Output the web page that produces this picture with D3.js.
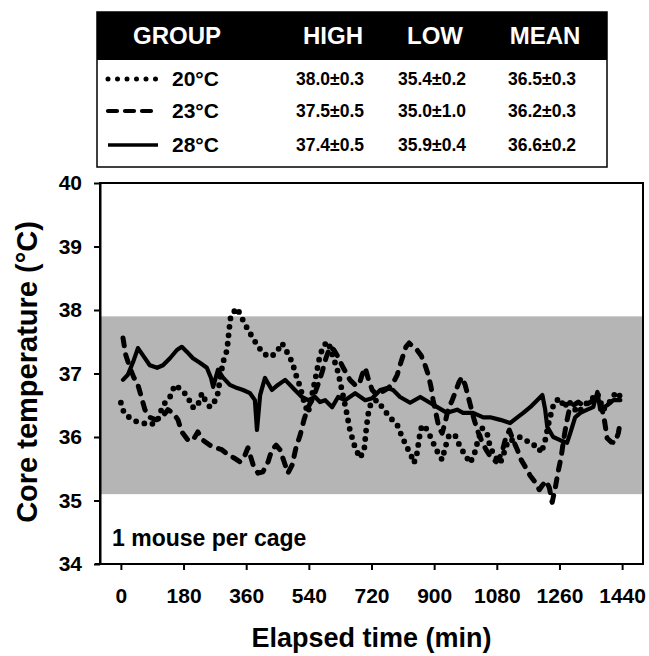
<!DOCTYPE html>
<html>
<head>
<meta charset="utf-8">
<script src="https://cdn.jsdelivr.net/npm/d3@7"></script>
<style>
  body { margin: 0; background: #fff; }
  svg { font-family: "Liberation Sans", Arial, sans-serif; }
</style>
</head>
<body>
<div id="my_dataviz"></div>
<script>
// values (minutes, deg C)
var t20 = [0,9,26,46,63,83,104,121,141,155,175,193,204,219,233,242,256,276,293,305,311,316,334,348,365,388,408,428,446,463,477,492,503,515,529,538,549,561,572,584,595,610,624,636,647,658,673,687,699,704,710,719,736,756,773,794,808,822,837,842,851,857,863,871,883,897,911,923,932,943,960,975,989,1003,1015,1026,1038,1052,1061,1075,1090,1104,1113,1130,1147,1164,1182,1196,1208,1219,1231,1245,1262,1274,1285,1300,1314,1331,1349,1369,1386,1403,1423,1440];
var temp20 = [36.54,36.38,36.30,36.24,36.22,36.19,36.24,36.50,36.63,36.82,36.74,36.63,36.47,36.47,36.69,36.58,36.47,36.61,37.17,37.37,37.69,37.92,38.03,37.87,37.69,37.48,37.32,37.26,37.32,37.48,37.34,37.18,36.98,36.79,36.50,36.38,36.66,36.98,37.29,37.45,37.50,37.26,37.02,36.71,36.43,36.11,35.83,35.67,35.80,36.08,36.35,36.55,36.58,36.43,36.31,36.19,36.00,35.84,35.67,35.59,35.75,35.98,36.14,36.19,36.08,35.91,35.75,35.64,35.84,36.03,36.03,35.84,35.72,35.59,35.72,35.95,36.14,36.06,35.84,35.69,35.59,35.80,35.95,35.95,36.00,35.95,35.87,35.87,35.75,35.95,36.27,36.55,36.61,36.46,36.58,36.46,36.38,36.50,36.58,36.69,36.43,36.54,36.71,36.61];

var t23 = [6,14,26,37,49,60,69,83,101,118,135,150,164,175,193,207,221,236,256,273,290,308,325,342,357,365,380,394,408,423,434,446,457,469,480,492,503,515,526,538,552,566,578,589,601,612,624,635,647,658,673,684,693,702,710,722,736,750,768,782,794,802,811,819,828,840,851,863,874,883,891,897,906,914,923,932,940,952,963,972,980,989,998,1006,1015,1026,1038,1049,1064,1078,1093,1104,1116,1127,1139,1150,1164,1176,1190,1202,1211,1222,1231,1239,1248,1256,1265,1271,1279,1288,1300,1314,1331,1349,1366,1380,1389,1397,1409,1420,1429,1435];
var temp23 = [37.56,37.29,37.09,36.94,36.82,36.61,36.43,36.31,36.27,36.31,36.43,36.38,36.27,36.08,35.95,35.95,36.08,35.95,35.87,35.83,35.80,35.72,35.67,35.61,35.72,35.83,35.56,35.43,35.45,35.61,35.80,35.87,35.80,35.61,35.43,35.56,35.83,36.03,36.27,36.47,36.61,36.82,37.02,37.24,37.42,37.37,37.26,37.13,37.01,36.90,36.82,36.82,36.98,37.09,36.93,36.74,36.66,36.71,36.77,36.85,36.98,37.13,37.29,37.42,37.48,37.42,37.37,37.28,37.13,36.98,36.79,36.58,36.35,36.14,36.06,36.24,36.43,36.58,36.74,36.87,36.94,36.82,36.63,36.46,36.27,36.08,35.92,35.80,35.67,35.61,35.72,35.95,36.11,35.95,35.80,35.64,35.51,35.39,35.29,35.17,35.24,35.31,35.20,34.97,35.20,35.45,35.69,35.92,36.19,36.43,36.50,36.55,36.49,36.55,36.61,36.50,36.27,35.98,35.92,35.91,36.06,36.24];

var t28 = [6,20,35,49,63,83,104,121,141,161,175,190,207,227,247,259,265,279,293,313,334,351,371,385,391,400,414,434,451,472,500,520,538,558,572,587,607,624,644,673,702,722,745,765,782,802,831,860,888,909,937,966,983,1012,1041,1061,1090,1118,1139,1156,1176,1196,1211,1219,1225,1242,1262,1282,1291,1305,1320,1340,1357,1369,1377,1397,1415,1435];
var temp28 = [36.90,36.98,37.18,37.40,37.29,37.13,37.09,37.13,37.24,37.37,37.42,37.34,37.24,37.17,37.09,36.93,36.79,37.06,36.94,36.82,36.77,36.74,36.69,36.58,36.11,36.66,36.93,36.74,36.82,36.90,36.74,36.63,36.58,36.63,36.55,36.58,36.47,36.63,36.58,36.69,36.58,36.61,36.74,36.77,36.74,36.63,36.54,36.63,36.54,36.47,36.38,36.43,36.38,36.38,36.31,36.31,36.27,36.22,36.31,36.38,36.47,36.58,36.66,36.43,36.16,36.00,35.95,35.91,36.06,36.31,36.38,36.43,36.47,36.71,36.43,36.50,36.58,36.58];

// table contents
var groups = ["20\u00B0C", "23\u00B0C", "28\u00B0C"];
var headers = ["GROUP", "HIGH", "LOW", "MEAN"];
var highs = ["38.0\u00B10.3", "37.5\u00B10.5", "37.4\u00B10.5"];
var lows  = ["35.4\u00B10.2", "35.0\u00B11.0", "35.9\u00B10.4"];
var means = ["36.5\u00B10.3", "36.2\u00B10.3", "36.6\u00B10.2"];

// grey band (normal range) and axis ticks
var band = [35.1, 37.9];
var xTicks = [0, 180, 360, 540, 720, 900, 1080, 1260, 1440];
var yTicks = [34, 35, 36, 37, 38, 39, 40];

var W = 649, H = 656;
var plot = {left: 100, right: 643, top: 183, bottom: 564};

var svg = d3.select("#my_dataviz")
  .append("svg")
    .attr("width", W)
    .attr("height", H);

var xScale = d3.scaleLinear().domain([-60, 1500]).range([plot.left, plot.right]);
var yScale = d3.scaleLinear().domain([34, 40]).range([plot.bottom, plot.top]);

// grey band
svg.append("rect")
  .attr("x", plot.left)
  .attr("width", plot.right - plot.left)
  .attr("y", yScale(band[1]))
  .attr("height", yScale(band[0]) - yScale(band[1]))
  .attr("fill", "#b5b5b5");

// series
var styles = [
  {t: t20, v: temp20, dash: "0 8.5", w: 5.8},
  {t: t23, v: temp23, dash: "8 9", w: 5},
  {t: t28, v: temp28, dash: null, w: 4.2}
];

var line = d3.line()
  .x(function(d) { return xScale(d[0]); })
  .y(function(d) { return yScale(d[1]); });

var lines = svg.append("g").attr("class", "lines");
styles.forEach(function(s) {
  var pts = s.t.map(function(t, i) { return [t, s.v[i]]; });
  lines.append("path")
    .datum(pts)
    .attr("fill", "none")
    .attr("stroke", "#000")
    .attr("stroke-width", s.w)
    .attr("stroke-linecap", "round")
    .attr("stroke-linejoin", "round")
    .attr("stroke-dasharray", s.dash)
    .attr("d", line);
});

// frame
svg.append("rect")
  .attr("x", plot.left)
  .attr("y", plot.top)
  .attr("width", plot.right - plot.left)
  .attr("height", plot.bottom - plot.top)
  .attr("fill", "none")
  .attr("stroke", "#000")
  .attr("stroke-width", 2);

// axes
var xAxis = d3.axisBottom(xScale)
  .tickValues(xTicks)
  .tickFormat(d3.format("d"))
  .tickSize(6)
  .tickSizeOuter(0)
  .tickPadding(18);

var gx = svg.append("g")
  .attr("transform", `translate(0,${plot.bottom})`)
  .call(xAxis);

var yAxis = d3.axisLeft(yScale)
  .tickValues(yTicks)
  .tickFormat(d3.format("d"))
  .tickSize(6)
  .tickSizeOuter(0)
  .tickPadding(12);

var gy = svg.append("g")
  .attr("transform", `translate(${plot.left},0)`)
  .call(yAxis);

[gx, gy].forEach(function(g) {
  g.select(".domain").attr("stroke", "#000").attr("stroke-width", 2);
  g.selectAll(".tick line").attr("stroke", "#000").attr("stroke-width", 2);
  g.selectAll(".tick text")
    .attr("fill", "#000")
    .attr("font-family", "'Liberation Sans', Arial, sans-serif")
    .attr("font-weight", "bold")
    .attr("font-size", 21);
});
gx.select(".domain").attr("d", `M${plot.left - 5},0H${plot.right}`);

// axis titles
svg.append("text")
  .attr("x", (plot.left + plot.right) / 2)
  .attr("y", 647)
  .attr("text-anchor", "middle")
  .attr("font-weight", "bold")
  .attr("font-size", 27)
  .text("Elapsed time (min)");

svg.append("text")
  .attr("transform", "translate(37,372) rotate(-90)")
  .attr("text-anchor", "middle")
  .attr("font-weight", "bold")
  .attr("font-size", 29)
  .text("Core temperature (\u00B0C)");

svg.append("text")
  .attr("x", 112)
  .attr("y", 546)
  .attr("font-size", 23)
  .attr("font-weight", "bold")
  .text("1 mouse per cage");

// table legend
var table = {x: 97, y: 12, w: 510, h: 155, head: 48};
var colX = [177, 333, 435, 545];
var rowY = [79, 111, 145];

var tg = svg.append("g").attr("class", "table");
tg.append("rect")
  .attr("x", table.x).attr("y", table.y)
  .attr("width", table.w).attr("height", table.h)
  .attr("fill", "#fff")
  .attr("stroke", "#000")
  .attr("stroke-width", 1.5);
tg.append("rect")
  .attr("x", table.x).attr("y", table.y)
  .attr("width", table.w).attr("height", table.head)
  .attr("fill", "#000");

tg.selectAll("text.head")
  .data(headers)
  .enter().append("text")
  .attr("class", "head")
  .attr("x", function(d, i) { return colX[i]; })
  .attr("y", table.y + 32)
  .attr("text-anchor", "middle")
  .attr("fill", "#fff")
  .attr("font-weight", "bold")
  .attr("font-size", 24)
  .text(function(d) { return d; });

groups.forEach(function(g, i) {
  var y = rowY[i];
  tg.append("line")
    .attr("x1", 108).attr("x2", i == 1 ? 154 : 158)
    .attr("y1", y).attr("y2", y)
    .attr("stroke", "#000")
    .attr("stroke-width", styles[i].w - 0.8)
    .attr("stroke-linecap", i == 2 ? "butt" : "round")
    .attr("stroke-dasharray", i == 0 ? "0 9.5" : (i == 1 ? "9 8" : null));
  tg.append("text")
    .attr("x", 172)
    .attr("y", y + 7)
    .attr("font-weight", "bold")
    .attr("font-size", 21)
    .text(g);
  [highs[i], lows[i], means[i]].forEach(function(v, j) {
    tg.append("text")
      .attr("x", colX[j + 1] - 3)
      .attr("y", y + 6)
      .attr("text-anchor", "middle")
      .attr("font-weight", "bold")
      .attr("font-size", 17.5)
      .text(v);
  });
});
</script>
</body>
</html>
